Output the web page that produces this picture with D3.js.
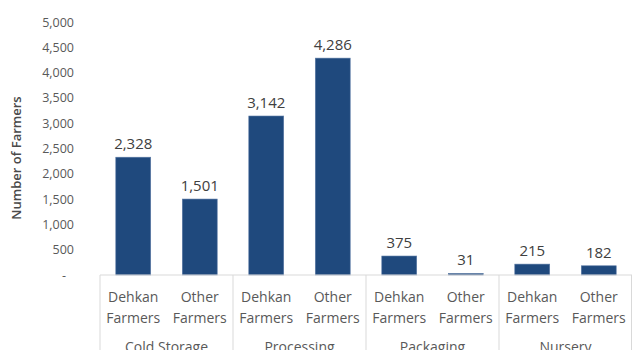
<!DOCTYPE html>
<html>
<head>
<meta charset="utf-8">
<script src="https://cdn.jsdelivr.net/npm/d3@7"></script>
<style>
  body { margin: 0; background: #fff; }
  text { font-family: "Open Sans", sans-serif; }
</style>
</head>
<body>
<div class="bar-chart"></div>
<script>
var groups = ["Cold Storage", "Processing", "Packaging", "Nursery"];
var farmerTypes = ["Dehkan Farmers", "Other Farmers"];
var values = [2328, 1501, 3142, 4286, 375, 31, 215, 182];
var yTicks = [0, 500, 1000, 1500, 2000, 2500, 3000, 3500, 4000, 4500, 5000];

var width = 632, height = 350;
var plotLeft = 100, plotRight = 632, plotTop = 22, plotBottom = 275;

var svg = d3.select(".bar-chart")
  .append("svg")
  .attr("width", width)
  .attr("height", height);

var data = [];
groups.forEach(function (g, i) {
  farmerTypes.forEach(function (t, j) {
    data.push({ group: g, type: t, key: g + "|" + t, value: values[i * farmerTypes.length + j] });
  });
});

var xGroup = d3.scaleBand()
  .domain(groups)
  .range([plotLeft, plotRight]);

var x = d3.scaleBand()
  .domain(data.map(function (d) { return d.key; }))
  .range([plotLeft, plotRight])
  .paddingInner(0.475)
  .paddingOuter(0.2375);

var y = d3.scaleLinear()
  .domain([0, 5000])
  .range([plotBottom, plotTop]);

/* ------- Y AXIS -------*/
var yAxis = svg.append("g")
  .attr("transform", "translate(" + (plotLeft - 26) + ",0)")
  .call(d3.axisLeft(y).tickValues(yTicks).tickSize(0).tickPadding(0)
    .tickFormat(function (d) { return d === 0 ? "-" : d3.format(",")(d); }));
yAxis.select(".domain").remove();
yAxis.selectAll("text")
  .attr("fill", "#595959")
  .style("font-size", "12.5px")
  .style("font-family", "Open Sans, sans-serif")
  .attr("dx", function (d) { return d === 0 ? -8 : 0; });

svg.append("text")
  .attr("transform", "translate(21," + 158 + ") rotate(-90)")
  .attr("text-anchor", "middle")
  .attr("fill", "#4a4a4a")
  .style("font-size", "13px")
  .style("font-weight", "600")
  .text("Number of Farmers");

/* ------- BARS -------*/
svg.append("g").selectAll("rect")
  .data(data)
  .enter()
  .append("rect")
  .attr("x", function (d) { return x(d.key); })
  .attr("width", x.bandwidth())
  .attr("y", function (d) { return y(d.value); })
  .attr("height", function (d) { return y(0) - y(d.value); })
  .attr("fill", "#1f497d")
  .attr("stroke", "#5a7aa5")
  .attr("stroke-width", 0.6);

svg.append("g").selectAll("text")
  .data(data)
  .enter()
  .append("text")
  .attr("x", function (d) { return x(d.key) + x.bandwidth() / 2; })
  .attr("y", function (d) { return y(d.value) - 8; })
  .attr("text-anchor", "middle")
  .attr("fill", "#404040")
  .style("font-size", "15px")
  .text(function (d) { return d3.format(",")(d.value); });

/* ------- X AXIS -------*/
svg.append("line")
  .attr("x1", plotLeft).attr("x2", plotRight)
  .attr("y1", plotBottom).attr("y2", plotBottom)
  .attr("stroke", "#d9d9d9");

var seps = groups.map(function (g) { return xGroup(g); }).concat([plotRight - 0.5]);
svg.append("g").selectAll("line")
  .data(seps)
  .enter()
  .append("line")
  .attr("x1", function (d) { return d; })
  .attr("x2", function (d) { return d; })
  .attr("y1", plotBottom)
  .attr("y2", height)
  .attr("stroke", "#d9d9d9");

var lbl = svg.append("g").selectAll("text")
  .data(data)
  .enter()
  .append("text")
  .attr("text-anchor", "middle")
  .attr("fill", "#595959")
  .style("font-size", "14px")
  .attr("transform", function (d) {
    return "translate(" + (x(d.key) + x.bandwidth() / 2) + ",0)";
  });
lbl.append("tspan").attr("x", 0).attr("y", 302)
  .text(function (d) { return d.type.split(" ")[0]; });
lbl.append("tspan").attr("x", 0).attr("y", 323)
  .text(function (d) { return d.type.split(" ")[1]; });

svg.append("g").selectAll("text")
  .data(groups)
  .enter()
  .append("text")
  .attr("x", function (d) { return xGroup(d) + xGroup.bandwidth() / 2; })
  .attr("y", 352)
  .attr("text-anchor", "middle")
  .attr("fill", "#595959")
  .style("font-size", "14px")
  .text(function (d) { return d; });
</script>
</body>
</html>
